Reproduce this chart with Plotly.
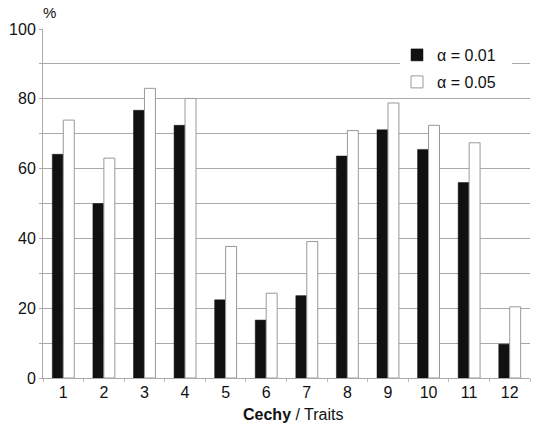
import plotly.graph_objects as go

categories = ["1", "2", "3", "4", "5", "6", "7", "8", "9", "10", "11", "12"]
alpha_001 = [64.1, 50.0, 76.7, 72.4, 22.4, 16.6, 23.6, 63.6, 71.1, 65.5, 56.0, 9.7]
alpha_005 = [73.9, 63.0, 83.0, 80.1, 37.7, 24.3, 39.1, 70.9, 78.8, 72.4, 67.4, 20.4]
y_tickvals = list(range(0, 101, 10))
y_ticktext = [str(v) if v % 20 == 0 else "" for v in y_tickvals]

W, H = 533, 424
L, R, T, B = 43, 3, 29, 46
pw, ph = W - L - R, H - T - B


def px_x(x):
    return (x - L) / pw


def px_y(y):
    return (H - B - y) / ph


FONT = "Liberation Sans, Arial, sans-serif"
TXT = "#111111"

fig = go.Figure()
fig.add_trace(go.Bar(x=categories, y=alpha_001, name="α = 0.01", legend="legend",
                     marker=dict(color="#111111", line=dict(color="#111111", width=0.5))))
fig.add_trace(go.Bar(x=categories, y=alpha_005, name="α = 0.05", legend="legend2",
                     marker=dict(color="white", line=dict(color="#999999", width=1))))

leg_common = dict(xanchor="left", yanchor="middle", bgcolor="rgba(255,255,255,0)",
                  font=dict(family=FONT, size=16, color=TXT), borderwidth=0)

fig.update_layout(
    width=W, height=H,
    margin=dict(l=L, r=R, t=T, b=B),
    paper_bgcolor="white", plot_bgcolor="white",
    barmode="group", bargap=0.46, bargroupgap=0,
    font=dict(family=FONT, size=16, color=TXT),
    showlegend=True,
    legend=dict(x=px_x(397), y=px_y(55), **leg_common),
    legend2=dict(x=px_x(397), y=px_y(82), **leg_common),
    xaxis=dict(type="category", showgrid=False, showline=True, linecolor="#aaaaaa", linewidth=1,
               ticks="outside", tickson="boundaries", ticklen=3, tickcolor="#bbbbbb",
               tickfont=dict(size=16, color=TXT), automargin=False),
    yaxis=dict(range=[0, 100], tickvals=y_tickvals, ticktext=y_ticktext,
               showgrid=True, gridcolor="#aaaaaa", gridwidth=1,
               showline=True, linecolor="#aaaaaa", linewidth=1,
               ticks="outside", ticklen=3, tickcolor="#aaaaaa",
               tickfont=dict(size=16, color=TXT), zeroline=False, automargin=False),
    shapes=[dict(type="rect", xref="paper", yref="paper", layer="above",
                 x0=px_x(400), x1=px_x(512), y0=px_y(46), y1=px_y(92),
                 fillcolor="white", line=dict(width=0))],
    annotations=[
        dict(text="%", xref="paper", yref="paper", x=px_x(49), y=px_y(12),
             xanchor="center", yanchor="middle", showarrow=False,
             font=dict(size=15, color=TXT)),
        dict(text="<b>Cechy</b> / Traits", xref="paper", yref="paper", x=px_x(293), y=px_y(414),
             xanchor="center", yanchor="middle", showarrow=False,
             font=dict(size=16, color=TXT)),
    ],
)

fig.write_html("out.html", config={"displayModeBar": False},
               post_script="document.body.style.margin='0';document.body.style.padding='0';")
